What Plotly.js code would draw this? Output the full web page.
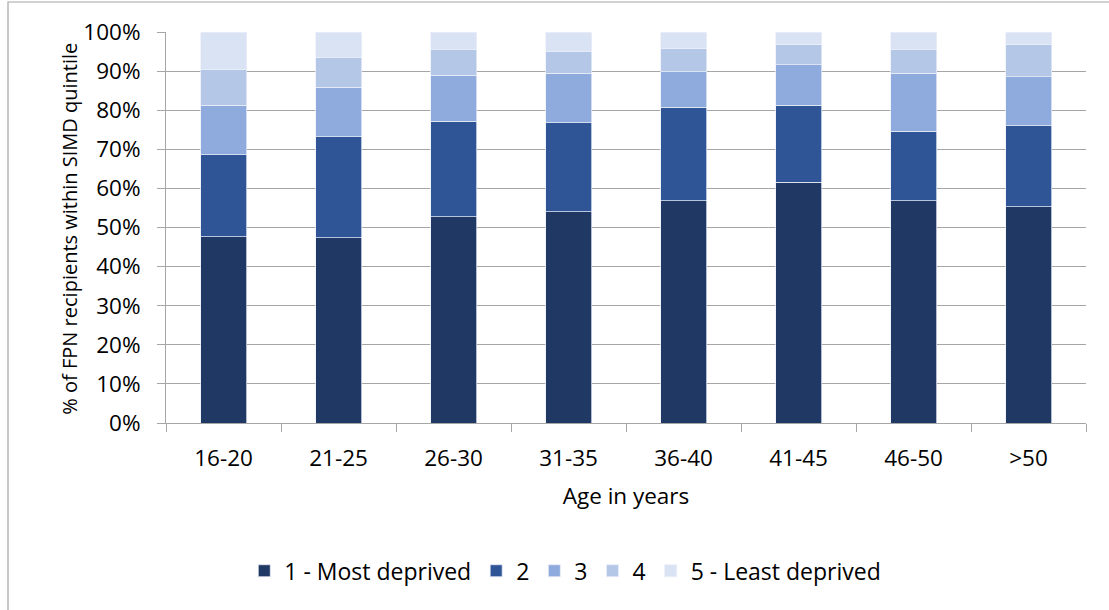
<!DOCTYPE html>
<html>
<head>
<meta charset="utf-8">
<script src="https://cdn.plot.ly/plotly-3.0.1.min.js"></script>
<style>html,body{margin:0;padding:0;background:#fff;}#chart{width:1109px;height:610px;}</style>
</head>
<body>
<div id="chart"></div>
<script>
const categories = ["16-20","21-25","26-30","31-35","36-40","41-45","46-50",">50"];
const seriesNames = ["1 - Most deprived","2","3","4","5 - Least deprived"];
const q1 = [47.6, 47.4, 52.8, 54.0, 56.9, 61.6, 56.9, 55.3];
const q2 = [21.0, 25.8, 24.4, 22.8, 23.9, 19.7, 17.7, 20.7];
const q3 = [12.7, 12.7, 11.8, 12.6, 9.0, 10.3, 14.9, 12.5];
const q4 = [9.2, 7.7, 6.5, 5.5, 5.9, 5.3, 6.0, 8.4];
const q5 = [9.5, 6.4, 4.5, 5.1, 4.3, 3.1, 4.5, 3.1];
const yTicks = [0,10,20,30,40,50,60,70,80,90,100];
const xTitle = "Age in years";
const yTitle = "% of FPN recipients within SIMD quintile";

const colors = ["#203864","#2F5597","#8FAADC","#B4C7E7","#DAE3F3"];
const seriesValues = [q1,q2,q3,q4,q5];
const font = "'Open Sans', 'Liberation Sans', sans-serif";

const traces = seriesValues.map((vals, i) => ({
  type: "bar",
  name: seriesNames[i],
  x: categories,
  y: vals,
  marker: {color: colors[i], line: {color: "rgba(235,240,250,0.9)", width: 0.8}},
  hoverinfo: "x+y+name"
}));

const layout = {
  width: 1109, height: 610,
  margin: {l: 166, r: 23, t: 32, b: 187},
  barmode: "stack",
  bargap: 0.6,
  paper_bgcolor: "#fff",
  plot_bgcolor: "#fff",
  font: {family: font, size: 22, color: "#000"},
  showlegend: true,
  legend: {
    orientation: "h", x: 0.434, xanchor: "center", y: -0.378, yanchor: "middle",
    font: {family: font, size: 23, color: "#000"},
    traceorder: "normal", itemwidth: 30, itemclick: false
  },
  xaxis: {
    type: "category",
    showline: true, linecolor: "#A6A6A6", linewidth: 1,
    ticks: "outside", tickson: "boundaries", ticklen: 8, tickcolor: "#A6A6A6",
    ticklabelstandoff: 15,
    showgrid: false,
    tickfont: {family: font, size: 22.5, color: "#000"},
    title: {text: xTitle, font: {family: font, size: 22.5, color: "#000"}, standoff: 16},
    automargin: false
  },
  yaxis: {
    range: [0, 100],
    tickvals: yTicks,
    ticktext: yTicks.map(v => v + "%"),
    showline: true, linecolor: "#A6A6A6", linewidth: 1,
    ticks: "outside", ticklen: 8, tickcolor: "#A6A6A6",
    ticklabelstandoff: 12,
    showgrid: true, gridcolor: "#A6A6A6", gridwidth: 1,
    zeroline: false,
    tickfont: {family: font, size: 22.5, color: "#000"},
    automargin: false
  },
  annotations: [{
    text: yTitle, xref: "paper", yref: "paper",
    x: (70 - 166) / 920, y: 0.497, xanchor: "center", yanchor: "middle",
    textangle: -90, showarrow: false,
    font: {family: font, size: 20, color: "#000"}
  }],
  shapes: [{
    type: "rect", xref: "paper", yref: "paper",
    x0: -158/920, x1: 1.1, y0: -0.6, y1: (32-2)/391 + 1,
    line: {color: "#A6A6A6", width: 1.2}, fillcolor: "rgba(0,0,0,0)", layer: "below"
  }]
};

Plotly.newPlot("chart", traces, layout, {displayModeBar: false, staticPlot: true});
</script>
</body>
</html>
